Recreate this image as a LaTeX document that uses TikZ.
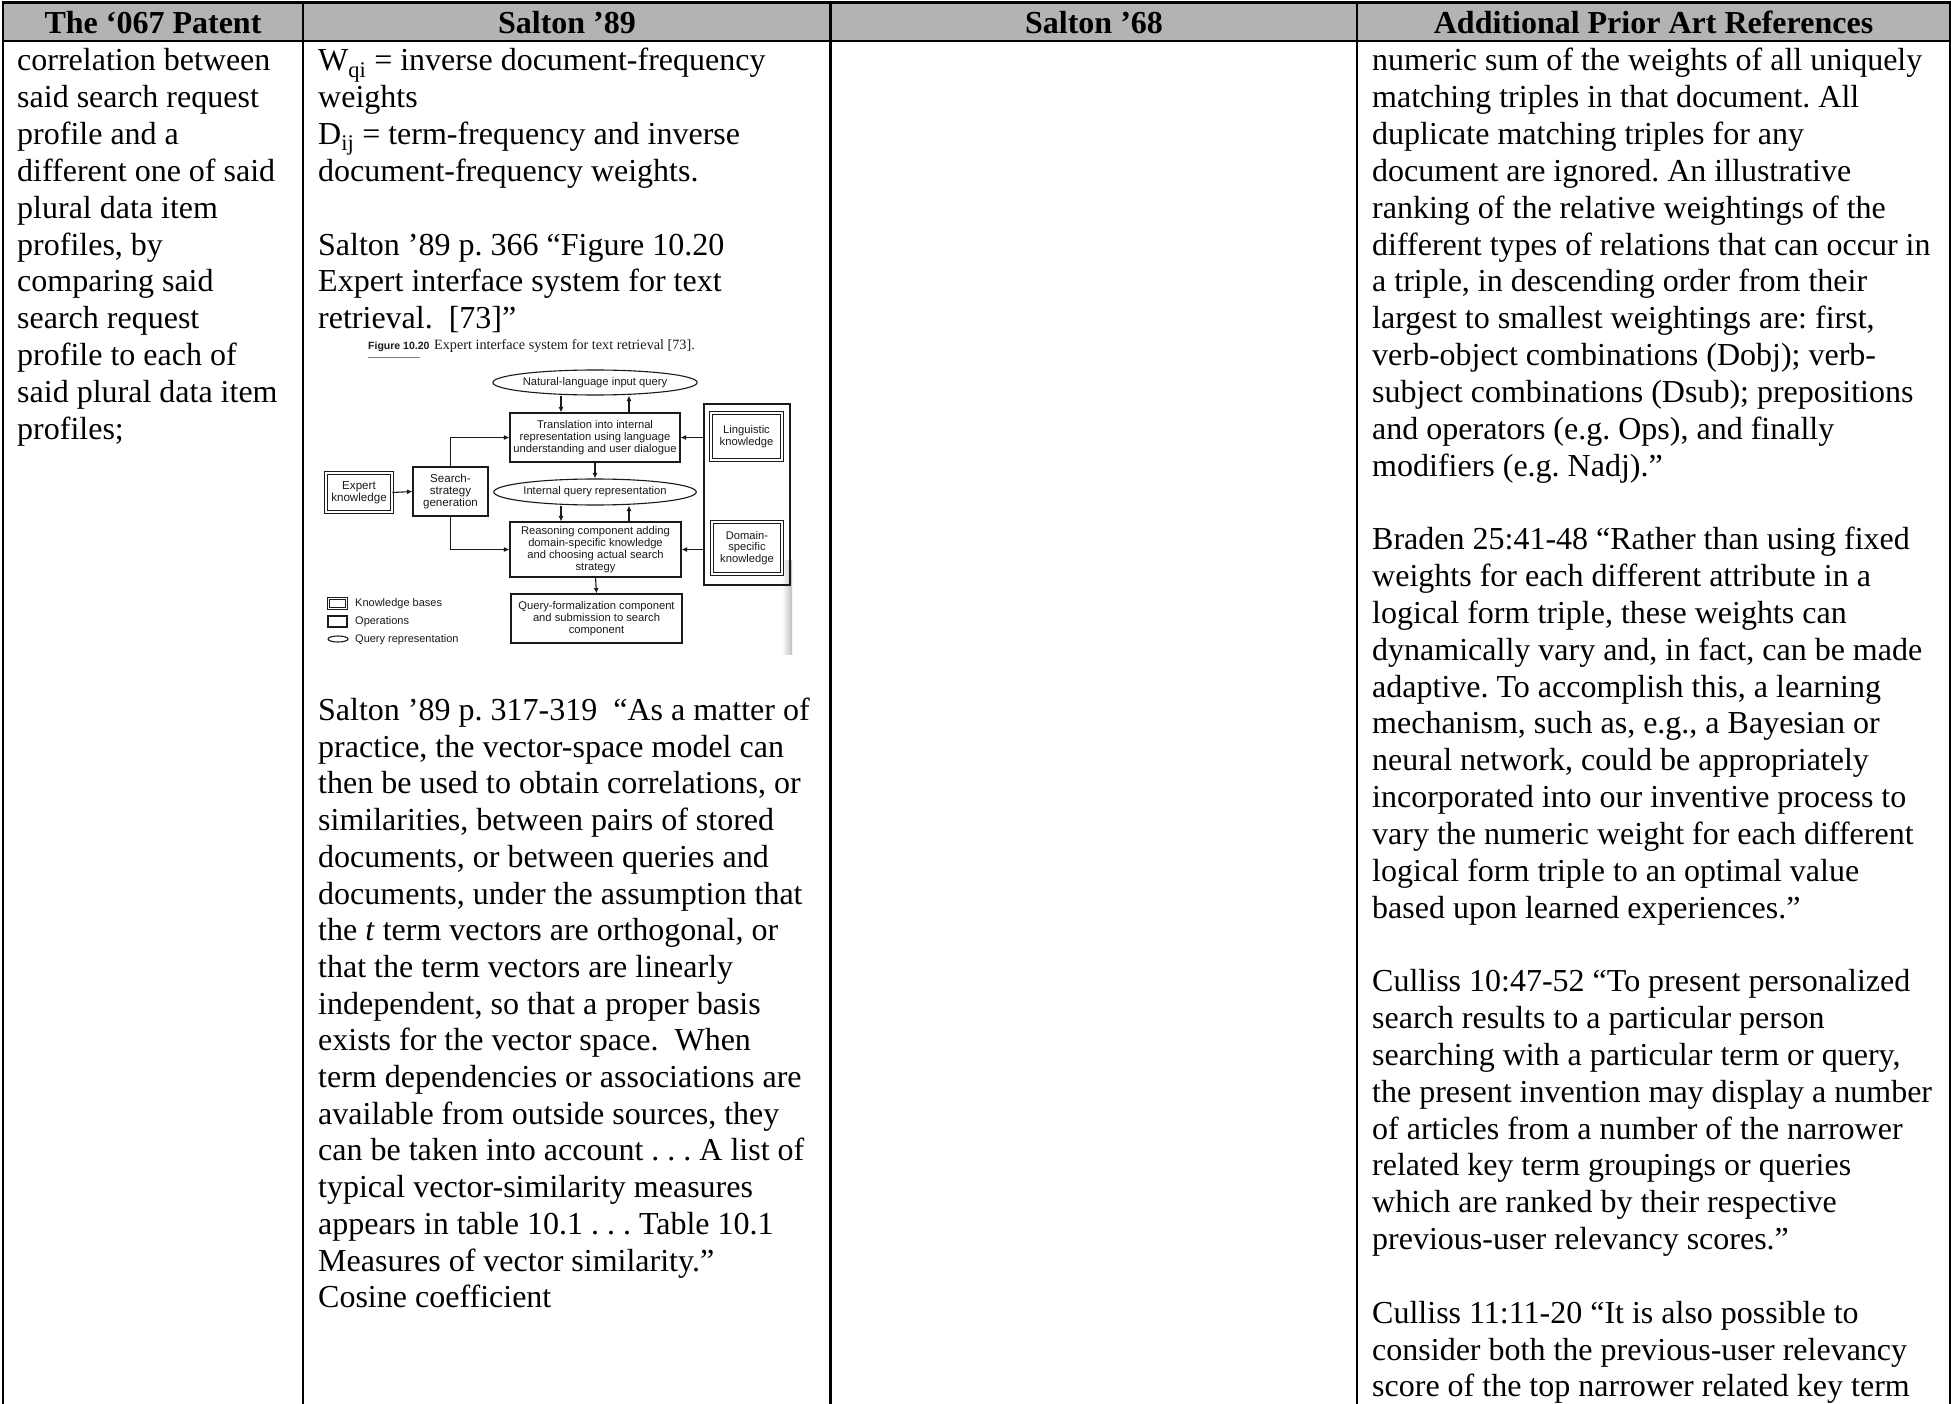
\documentclass[tikz,border=0pt]{standalone}
\usepackage{fontspec}
\setmainfont{Liberation Serif}
\newfontfamily\figsf{Liberation Sans}
\usetikzlibrary{shapes.geometric,arrows.meta}
\definecolor{hdrgray}{HTML}{B3B3B3}
\definecolor{figink}{HTML}{1A1A1A}
\newcommand{\bodyfont}{\fontsize{32}{36.83}\selectfont\frenchspacing}
\newcommand{\figfont}{\figsf\fontsize{11.2}{11.7}\selectfont}
\begin{document}
\begin{tikzpicture}[x=1pt,y=-1pt,
  grid/.style={line width=2.3pt,black},
  hdr/.style={anchor=base,inner sep=0pt,font=\bodyfont\bfseries},
  txt/.style={anchor=base west,inner sep=0pt,font=\bodyfont},
  fbox/.style={draw=figink,line width=1.1pt,inner sep=0pt,align=center,font=\figfont,text=figink},
  fell/.style={draw=figink,line width=1.1pt,ellipse,inner sep=0pt,font=\figfont,text=figink},
  kbox/.style={draw=figink,line width=0.8pt,double=white,double distance=1.6pt,inner sep=0pt,align=center,font=\figfont,text=figink},
  farr/.style={draw=figink,line width=1.1pt,-{Latex[length=5.5pt,width=5pt]}},
  leg/.style={anchor=west,inner sep=0pt,font=\figsf\fontsize{11}{12}\selectfont,text=figink}
]
\useasboundingbox (0,0) rectangle (1951,1404);
\fill[white] (0,0) rectangle (1951,1404);
% header
\fill[hdrgray] (3,2.5) rectangle (1950,41);
\draw[grid] (3,1410) -- (3,2.5) -- (1950,2.5) -- (1950,1410);
\draw[grid] (3,41) -- (1950,41);
\draw[grid] (303,2.5) -- (303,1410);
\draw[grid] (830.5,2.5) -- (830.5,1410);
\draw[grid] (1357,2.5) -- (1357,1410);
\node[hdr] (h1) at (153,33.3) {The ‘067 Patent};
\node[hdr] (h2) at (567,33.3) {Salton ’89};
\node[hdr] (h3) at (1094,33.3) {Salton ’68};
\node[hdr] (h4) at (1653.5,33.3) {Additional Prior Art References};
% column 1
\foreach \t [count=\i from 0] in {{correlation between},{said search request},{profile and a},{different one of said},{plural data item},{profiles, by},{comparing said},{search request},{profile to each of},{said plural data item},{profiles;}}
  \node[txt] (a\i) at (17,{71+36.83*\i}) {\t};
% column 2
\foreach \t [count=\i from 0] in {{W\textsubscript{qi} = inverse document-frequency},{weights},{D\textsubscript{ij} = term-frequency and inverse},{document-frequency weights.}}
  \node[txt] (b\i) at (318,{71+36.83*\i}) {\t};
\foreach \t [count=\i from 5] in {{Salton ’89 p. 366 “Figure 10.20},{Expert interface system for text},{retrieval.\ \ [73]”}}
  \node[txt] (b\i) at (318,{71+36.83*\i}) {\t};
\foreach \t [count=\i from 0] in {{Salton ’89 p. 317-319\ \ “As a matter of},{practice, the vector-space model can},{then be used to obtain correlations, or},{similarities, between pairs of stored},{documents, or between queries and},{documents, under the assumption that},{the \textit{t} term vectors are orthogonal, or},{that the term vectors are linearly},{independent, so that a proper basis},{exists for the vector space.\ \ When},{term dependencies or associations are},{available from outside sources, they},{can be taken into account . . . A list of},{typical vector-similarity measures},{appears in table 10.1 . . . Table 10.1},{Measures of vector similarity.”},{Cosine coefficient}}
  \node[txt] (c\i) at (318,{720.5+36.7*\i}) {\t};
% column 4
\foreach \t [count=\i from 0] in {{numeric sum of the weights of all uniquely},{matching triples in that document. All},{duplicate matching triples for any},{document are ignored. An illustrative},{ranking of the relative weightings of the},{different types of relations that can occur in},{a triple, in descending order from their},{largest to smallest weightings are: first,},{verb-object combinations (Dobj); verb-},{subject combinations (Dsub); prepositions},{and operators (e.g. Ops), and finally},{modifiers (e.g. Nadj).”}}
  \node[txt] (d\i) at (1372,{71+36.83*\i}) {\t};
\foreach \t [count=\i from 13] in {{Braden 25:41-48 “Rather than using fixed},{weights for each different attribute in a},{logical form triple, these weights can},{dynamically vary and, in fact, can be made},{adaptive. To accomplish this, a learning},{mechanism, such as, e.g., a Bayesian or},{neural network, could be appropriately},{incorporated into our inventive process to},{vary the numeric weight for each different},{logical form triple to an optimal value},{based upon learned experiences.”}}
  \node[txt] (d\i) at (1372,{71+36.83*\i}) {\t};
\foreach \t [count=\i from 25] in {{Culliss 10:47-52 “To present personalized},{search results to a particular person},{searching with a particular term or query,},{the present invention may display a number},{of articles from a number of the narrower},{related key term groupings or queries},{which are ranked by their respective},{previous-user relevancy scores.”}}
  \node[txt] (d\i) at (1372,{71+36.83*\i}) {\t};
\foreach \t [count=\i from 34] in {{Culliss 11:11-20 “It is also possible to},{consider both the previous-user relevancy},{score of the top narrower related key term}}
  \node[txt] (d\i) at (1372,{71+36.83*\i}) {\t};
% embedded figure
\shade[left color=white,right color=gray!50,draw=none] (782,560) rectangle (792,654);
\node[anchor=base west,inner sep=0pt,font=\figsf\bfseries\fontsize{10.5}{11}\selectfont,text=figink] (fcap1) at (368,349) {Figure 10.20};
\node[anchor=base west,inner sep=0pt,font=\fontsize{14.2}{16}\selectfont,text=figink] (fcap2) at (434,349) {Expert interface system for text retrieval [73].};
\draw[gray,line width=0.6pt] (fcap1.south west) ++(0,6) -- ++(52,0);
\node[fell,minimum width=170pt,minimum height=25pt] (E1) at (595,382.5) {Natural-language input query};
\node[fbox,minimum width=170pt,minimum height=49pt] (B1) at (595,437.5) {Translation into internal\\representation using language\\understanding and user dialogue};
\node[fbox,minimum width=75pt,minimum height=49pt,font=\figsf\fontsize{11.6}{12}\selectfont] (SS) at (450.5,491.5) {Search-\\strategy\\generation};
\node[kbox,minimum width=66pt,minimum height=39pt,font=\figsf\fontsize{11.6}{12}\selectfont] (EK) at (359,492.5) {Expert\\knowledge};
\node[fell,minimum width=170pt,minimum height=26pt] (E2) at (595,492) {Internal query representation};
\node[fbox,minimum width=171pt,minimum height=55pt,font=\figsf\fontsize{11.2}{12}\selectfont] (B2) at (595.5,549.5) {Reasoning component adding\\domain-specific knowledge\\and choosing actual search\\strategy};
\node[fbox,minimum width=171pt,minimum height=49pt] (B3) at (596.5,618.5) {Query-formalization component\\and submission to search\\component};
\node[fbox,minimum width=86pt,minimum height=181pt] (BIG) at (747,494.5) {};
\node[kbox,minimum width=71pt,minimum height=47pt] (LK) at (746.5,436.5) {Linguistic\\knowledge};
\node[kbox,minimum width=70pt,minimum height=52pt] (DK) at (747,548) {Domain-\\specific\\knowledge};
\draw[farr] (E1.south -| 561,0) -- (B1.north -| 561,0);
\draw[farr] (B1.north -| 629,0) -- (E1.south -| 629,0);
\draw[farr] (B1.south) -- (E2.north);
\draw[farr] (E2.south -| 561,0) -- (B2.north -| 561,0);
\draw[farr] (B2.north -| 629,0) -- (E2.south -| 629,0);
\draw[farr] (B2.south) -- (B3.north);
\draw[farr] (EK.east) -- (SS.west);
\draw[farr] (SS.north) |- (B1.west);
\draw[farr] (SS.south) |- (B2.west);
\draw[farr] (BIG.west |- B1.east) -- (B1.east);
\draw[farr] (BIG.west |- B2.east) -- (B2.east);
% legend
\node[kbox,minimum width=18pt,minimum height=10pt] (L1) at (337.5,603.5) {};
\node[leg] (L1t) at (355,604) {Knowledge bases};
\node[fbox,minimum width=19pt,minimum height=11pt] (L2) at (337.5,621.5) {};
\node[leg] (L2t) at (355,622) {Operations};
\node[fell,minimum width=20pt,minimum height=6pt] (L3) at (338,639) {};
\node[leg] (L3t) at (355,640) {Query representation};
\end{tikzpicture}
\end{document}
